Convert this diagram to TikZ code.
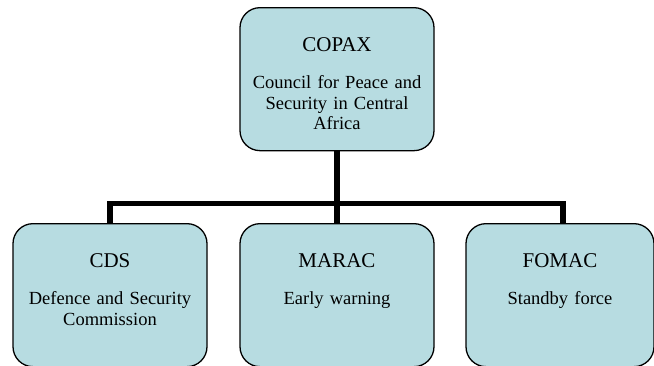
\documentclass[tikz,border=0pt]{standalone}
\usepackage{fontspec}
\setmainfont{Liberation Serif}
\usepackage{tikz}
\usetikzlibrary{positioning,calc}
\usepackage{xcolor}
\definecolor{boxblue}{RGB}{183,220,225}
\newcommand{\unithead}[1]{{\fontsize{21}{21}\selectfont #1}}

\begin{document}
\begin{tikzpicture}[
  x=1pt, y=-1pt,
  unit/.style={draw, line width=1.3pt, rounded corners=20pt, fill=boxblue,
               anchor=north, inner sep=0pt, align=center,
               text width=194pt, text height=43.5pt, text depth=99.5pt,
               font=\fontsize{18.5}{20.5}\selectfont},
  bar/.style={line width=5.5pt},
]
\useasboundingbox (0,0) rectangle (654,365);

%% Nodes
\node[unit] (copax) at (337,7)
  {\unithead{COPAX}\\[17pt]Council for Peace and\\Security in Central\\Africa};
\node[unit] (cds)   at (110,223)
  {\unithead{CDS}\\[17pt]Defence and Security\\Commission};
\node[unit] (marac) at (337,223)
  {\unithead{MARAC}\\[17pt]Early warning};
\node[unit, text width=188pt] (fomac) at (560,223)
  {\unithead{FOMAC}\\[17pt]Standby force};

%% Connectors
\coordinate (bus) at ($(copax.south)!0.73!(marac.north)$);
\draw[bar] (copax.south) -- (marac.north);
\draw[bar] (cds.north) |- (bus) -| ([xshift=3pt]fomac.north);

\end{tikzpicture}
\end{document}
